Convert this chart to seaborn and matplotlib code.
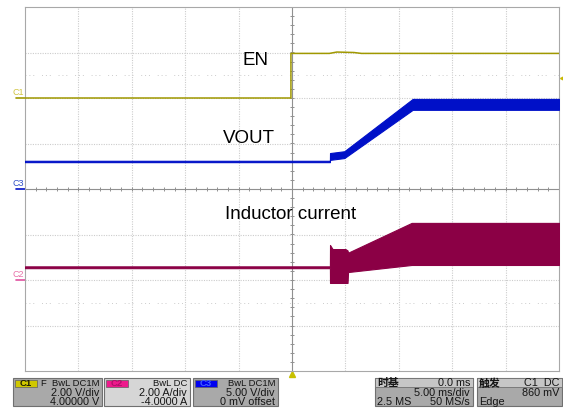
import numpy as np
import matplotlib
matplotlib.use("Agg")
import matplotlib.pyplot as plt
import seaborn as sns
import pandas as pd
from matplotlib.patches import Rectangle

sns.set_theme(style="white")
plt.rcParams['font.family'] = ['Liberation Sans', 'Noto Sans CJK SC', 'DejaVu Sans']

# channel settings (scale per div, ground position in div)
en_scale, en_pos = 2.0, 2.0      # C1, V/div
il_scale, il_pos = 2.0, -2.0     # C2, A/div
vo_scale, vo_pos = 5.0, 0.0      # C3, V/div

# EN (V)
en_t = [-25, -0.1, -0.1, 3.5, 4.2, 5.8, 6.5, 25]
en_v = [0.0, 0.0, 1.96, 1.96, 2.02, 2.0, 1.96, 1.96]

# VOUT band (V)
vo_t = [-25, 3.55, 3.56, 4.9, 11.3, 25]
vo_hi = [3.1, 3.1, 3.95, 4.15, 9.9, 9.9]
vo_lo = [2.95, 2.95, 3.2, 3.4, 8.7, 8.7]

# inductor current band (A)
il_t = [-25, 3.55, 3.56, 3.8, 5.0, 5.2, 5.25, 11.2, 25]
il_hi = [0.60, 0.60, 1.54, 1.36, 1.36, 1.30, 1.20, 2.51, 2.51]
il_lo = [0.52, 0.52, -0.13, -0.13, -0.13, -0.13, 0.35, 0.66, 0.66]

c_en = '#a09800'
c_vo = '#0010c8'
c_il = '#8b0045'

fig = plt.figure(figsize=(5.63, 4.08), dpi=100)
fig.patch.set_facecolor('white')

# bottom info bar, pixel coords
bax = fig.add_axes([0, 0, 1, 1])
bax.set_xlim(0, 563)
bax.set_ylim(408, 0)
bax.axis('off')
bax.set_zorder(0)

ax = fig.add_axes([25/563, (408-371)/408, 534/563, 364/408])
ax.set_zorder(1)
ax.set_xlim(-25, 25)
ax.set_ylim(-4, 4)
ax.set_xticks([])
ax.set_yticks([])
for s in ax.spines.values():
    s.set_color('#a8a8a8')
    s.set_linewidth(0.8)

# grid
for x in np.arange(-20, 25, 5):
    if x != 0:
        ax.axvline(x, color='#cccccc', lw=0.8, ls=(0, (1, 1.2)), zorder=0)
for y in np.arange(-3, 4, 1):
    if y != 0:
        ax.axhline(y, color='#cccccc', lw=0.8, ls=(0, (1, 1.2)), zorder=0)
ax.axhline(2.5, color='#cccccc', lw=0.7, ls=(0, (1, 3, 1, 3, 1, 8)), zorder=0)
ax.axhline(-2.5, color='#cccccc', lw=0.7, ls=(0, (1, 3, 1, 3, 1, 8)), zorder=0)
ax.axvline(0, color='#909090', lw=0.8, zorder=0)
ax.axhline(0, color='#909090', lw=0.8, zorder=0)
ty = np.arange(-4, 4.01, 0.2)
ax.hlines(ty, -0.2, 0.2, color='#909090', lw=0.7, zorder=0)
tx = np.arange(-25, 25.01, 1)
ax.vlines(tx, -0.045, 0.045, color='#909090', lw=0.7, zorder=0)

# traces
df_en = pd.DataFrame({'t': en_t, 'div': np.array(en_v) / en_scale + en_pos})
sns.lineplot(data=df_en, x='t', y='div', ax=ax, color=c_en, lw=1.1,
             estimator=None, sort=False, zorder=3)

ax.fill_between(vo_t, np.array(vo_lo) / vo_scale + vo_pos,
                np.array(vo_hi) / vo_scale + vo_pos,
                color=c_vo, edgecolor=c_vo, lw=0.8, zorder=3)
ax.fill_between(il_t, np.array(il_lo) / il_scale + il_pos,
                np.array(il_hi) / il_scale + il_pos,
                color=c_il, edgecolor=c_il, lw=0.8, zorder=3)
ax.set_xlabel('')
ax.set_ylabel('')

# labels
ax.text(-4.6, 2.835, 'EN', fontsize=13.5, va='center', ha='left', color='black')
ax.text(-6.5, 1.105, 'VOUT', fontsize=13.5, va='center', ha='left', color='black')
ax.text(-6.3, -0.571, 'Inductor current', fontsize=13.5, va='center', ha='left',
        color='black')

# ground markers on the left
for pos, name, col, lcol in [(en_pos, 'C1', '#d0c440', c_en),
                             (vo_pos, 'C3', '#3050c8', c_vo),
                             (il_pos, 'C2', '#e870a8', '#e050a0')]:
    ax.plot([-25.8, -25], [pos, pos], color=lcol, lw=1.2, clip_on=False)
    ax.text(-26.2, pos + 0.03, name, fontsize=6.5, color=col, ha='left',
            va='bottom', clip_on=False)

# trigger markers
ax.plot([25.35], [2.43], marker='<', color='#c8b800', ms=4, clip_on=False)
ax.plot([0], [-4.07], marker='^', color='#c8c000', ms=5, clip_on=False)

# info boxes
fs = 7.8
fs1 = 6.8
def chbox(x0, w, bg, tabc, tabtxt, tabtxtc, head_l, lines):
    bax.add_patch(Rectangle((x0, 378), w, 28, facecolor=bg, edgecolor='#707070', lw=0.8))
    bax.add_patch(Rectangle((x0 + 2, 379.5), 22, 7.5, facecolor=tabc, edgecolor='#606060', lw=0.5))
    bax.text(x0 + 13, 383.4, tabtxt, fontsize=6.8, fontweight='bold', color=tabtxtc,
             ha='center', va='center')
    if head_l:
        bax.text(x0 + 27, 383.2, head_l, fontsize=fs1, ha='left', va='center', color='#151515')
    for y, s, f in zip([383.2, 392.6, 401.6], lines, [fs1, fs, fs]):
        bax.text(x0 + w - 3, y, s, fontsize=f, ha='right', va='center', color='#151515')

chbox(13, 89, '#a9a9a9', '#d0c800', 'C1', '#202000', 'F',
      ['BwL DC1M', '2.00 V/div', '4.00000 V'])
chbox(104, 86, '#d6d6d6', '#ee1a8c', 'C2', '#b0106a', '',
      ['BwL DC', '2.00 A/div', '-4.0000 A'])
chbox(193, 85, '#a9a9a9', '#0000f0', 'C3', '#4060ff', '',
      ['BwL DC1M', '5.00 V/div', '0 mV offset'])

def infobox(x0, w, head, headr, r2, r3l, r3r):
    bax.add_patch(Rectangle((x0, 378), w, 28, facecolor='#a9a9a9', edgecolor='#707070', lw=0.8))
    bax.add_patch(Rectangle((x0, 378), w, 9, facecolor='#c6c6c6', edgecolor='#707070', lw=0.6))
    bax.text(x0 + 2, 383, head, fontsize=fs, fontweight='bold', ha='left', va='center', color='#151515')
    bax.text(x0 + w - 3, 383.2, headr, fontsize=fs, ha='right', va='center', color='#151515')
    bax.text(x0 + w - 3, 392.6, r2, fontsize=fs, ha='right', va='center', color='#151515')
    bax.text(x0 + 2, 401.6, r3l, fontsize=fs, ha='left', va='center', color='#151515')
    bax.text(x0 + w - 3, 401.6, r3r, fontsize=fs, ha='right', va='center', color='#151515')

infobox(375, 98, '时基', '0.0 ms', '5.00 ms/div', '2.5 MS', '50 MS/s')
infobox(477, 85, '触发', 'C1  DC', '860 mV', 'Edge', '')

fig.savefig('out.png', dpi=100, facecolor='white')
